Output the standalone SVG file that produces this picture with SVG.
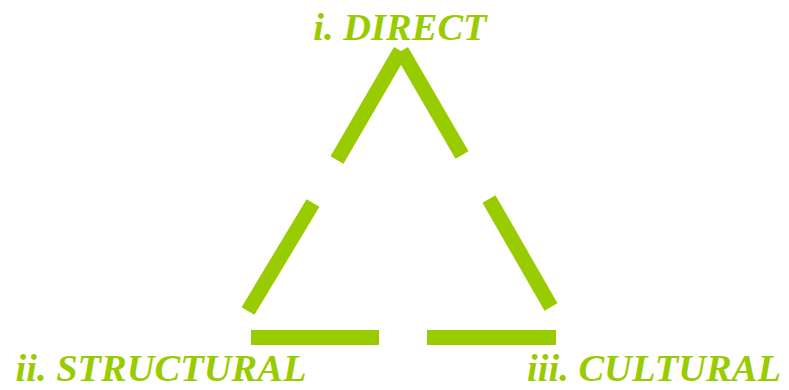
<svg xmlns="http://www.w3.org/2000/svg" width="789" height="390" viewBox="0 0 789 390">
<style>
.lbl{font-family:"Liberation Serif","Times New Roman",serif;font-weight:bold;font-style:italic;font-size:38.5px;fill:#99cc00;text-anchor:middle}
.seg{stroke:#99cc00;stroke-width:15;stroke-linecap:butt;fill:none}
</style>
<rect width="789" height="390" fill="#ffffff"/>
<g id="connectors">
<line class="seg" x1="400.5" y1="50.75" x2="337" y2="160"/>
<line class="seg" x1="313" y1="203" x2="248" y2="311"/>
<line class="seg" x1="401.5" y1="50.75" x2="462" y2="155"/>
<line class="seg" x1="489" y1="199" x2="551" y2="307"/>
<line class="seg" x1="251" y1="337.5" x2="379" y2="337.5"/>
<line class="seg" x1="427" y1="337.5" x2="556" y2="337.5"/>
</g>
<g id="direct"><text class="lbl" x="400" y="40">i. DIRECT</text></g>
<g id="structural"><text class="lbl" x="161" y="381">ii. STRUCTURAL</text></g>
<g id="cultural"><text class="lbl" x="654" y="381">iii. CULTURAL</text></g>
</svg>
